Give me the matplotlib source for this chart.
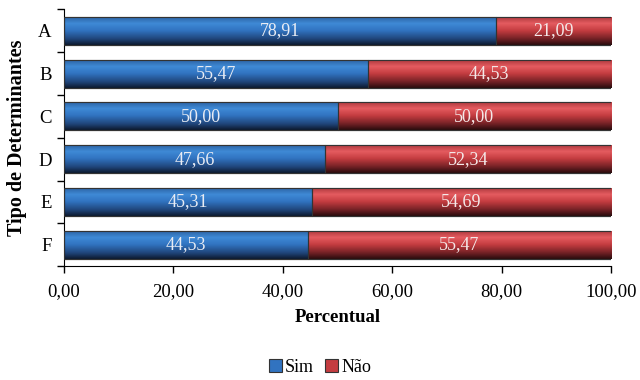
import numpy as np
import matplotlib
matplotlib.use("Agg")
import matplotlib.pyplot as plt
from matplotlib.colors import LinearSegmentedColormap
from matplotlib.ticker import FixedLocator

plt.rcParams['font.family'] = ['Liberation Serif', 'DejaVu Serif']

categories = ['A', 'B', 'C', 'D', 'E', 'F']
sim = [78.91, 55.47, 50.00, 47.66, 45.31, 44.53]
nao = [21.09, 44.53, 50.00, 52.34, 54.69, 55.47]
xticks = [0, 20, 40, 60, 80, 100]

fig = plt.figure(figsize=(6.4, 3.8), dpi=100)
ax = fig.add_axes([0.1, 0.30, 0.855, 0.675])

# A at the top
ypos = np.arange(len(categories))[::-1]
h = 0.66

blue_map = LinearSegmentedColormap.from_list(
    'blue', [(0.0, '#2a5f9e'), (0.25, '#3f8ad6'), (0.5, '#3173c0'), (0.8, '#1f4478'), (1.0, '#0d1a30')])
red_map = LinearSegmentedColormap.from_list(
    'red', [(0.0, '#a8353a'), (0.25, '#e55c60'), (0.5, '#c43c40'), (0.8, '#702024'), (1.0, '#2a0c0e')])
grad = np.linspace(0, 1, 64).reshape(-1, 1)

bars_s = ax.barh(ypos, sim, height=h, color='#3173c0', edgecolor='#333333', linewidth=0.8, label='Sim', zorder=2)
bars_n = ax.barh(ypos, nao, left=sim, height=h, color='#c43c40', edgecolor='#333333', linewidth=0.8, label='Não', zorder=2)

for bars, cmap in ((bars_s, blue_map), (bars_n, red_map)):
    for b in bars:
        x0, y0 = b.get_x(), b.get_y()
        im = ax.imshow(grad, cmap=cmap, aspect='auto', origin='upper',
                       extent=[x0, x0 + b.get_width(), y0, y0 + b.get_height()], zorder=2.5)
        im.set_clip_path(b)
    for b in bars:
        ax.add_patch(plt.Rectangle((b.get_x(), b.get_y()), b.get_width(), b.get_height(),
                                   fill=False, edgecolor='#333333', linewidth=0.8, zorder=3))

for b, v in zip(bars_s, sim):
    ax.text(b.get_x() + b.get_width() / 2, b.get_y() + b.get_height() / 2, f'{v:.2f}'.replace('.', ','),
            ha='center', va='center', color='#e8ecf4', fontsize=13, zorder=4)
for b, v in zip(bars_n, nao):
    ax.text(b.get_x() + b.get_width() / 2, b.get_y() + b.get_height() / 2, f'{v:.2f}'.replace('.', ','),
            ha='center', va='center', color='#f4e8e8', fontsize=13, zorder=4)

ax.set_xlim(0, 100)
ax.set_ylim(-0.5, len(categories) - 0.5)
ax.set_xticks(xticks)
ax.set_xticklabels([f'{t:.2f}'.replace('.', ',') for t in xticks], fontsize=13.5)
ax.set_yticks(ypos)
ax.set_yticklabels(categories, fontsize=13.5)
ax.tick_params(axis='y', which='major', length=0, pad=9)
ax.yaxis.set_minor_locator(FixedLocator(np.arange(-0.5, len(categories), 1)))
ax.tick_params(axis='y', which='minor', length=5, width=1)
ax.tick_params(axis='x', length=5, width=1, pad=7)
ax.spines['top'].set_visible(False)
ax.spines['right'].set_visible(False)
ax.set_xlabel('Percentual', fontsize=13.5, fontweight='bold', labelpad=7)
ax.set_ylabel('Tipo de Determinantes', fontsize=14.5, fontweight='bold', labelpad=8)

fig.legend(handles=[bars_s, bars_n], labels=['Sim', 'Não'], loc='lower center', ncol=2,
           bbox_to_anchor=(0.5, -0.032), frameon=False, fontsize=13, handlelength=0.7,
           handleheight=0.7, handletextpad=0.2, columnspacing=0.6)

fig.savefig('out.png', dpi=100)
